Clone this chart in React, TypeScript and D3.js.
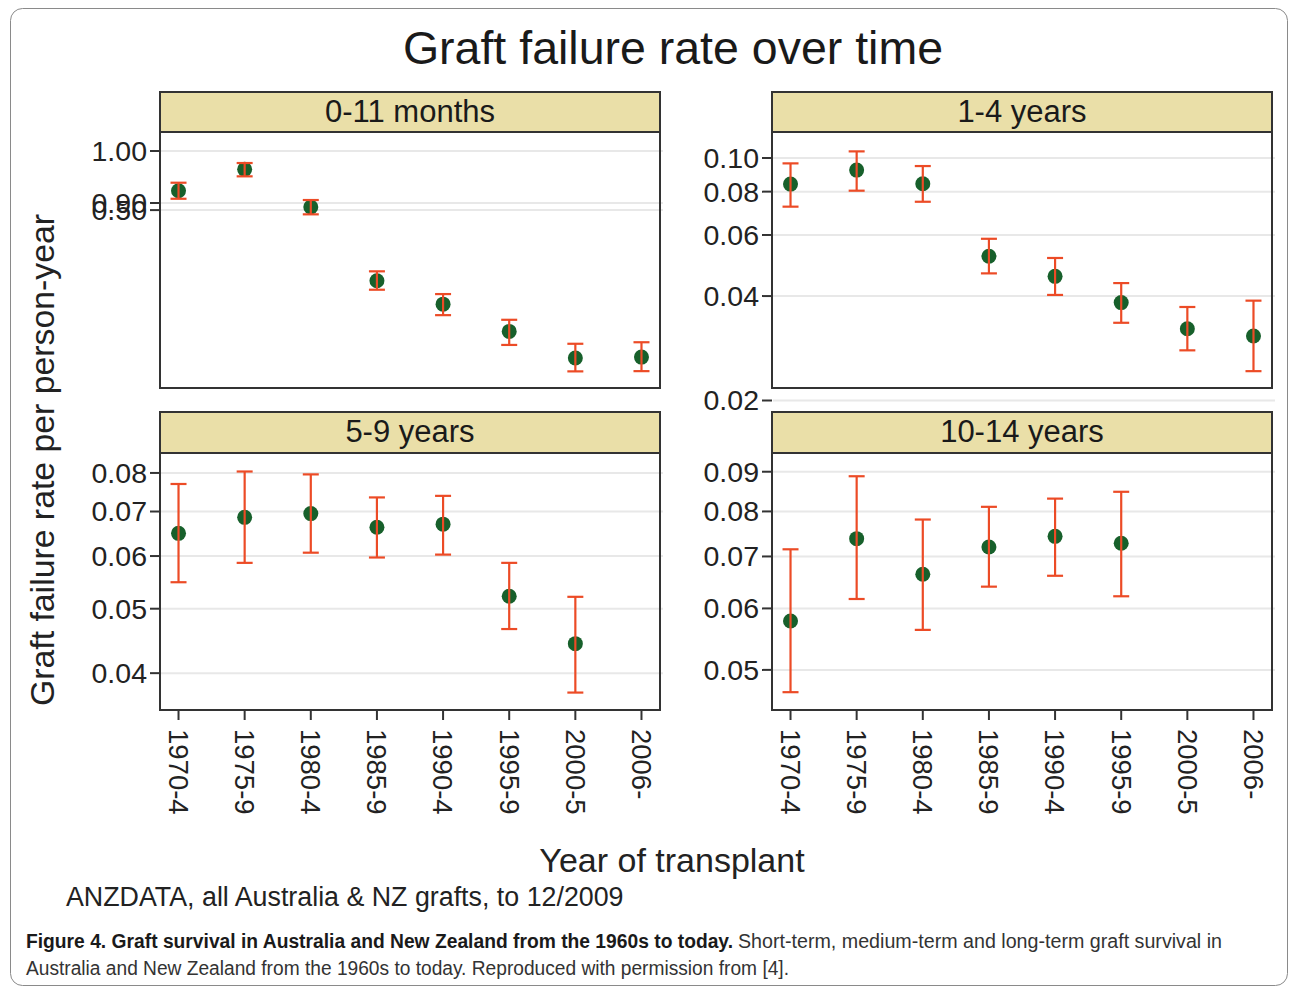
import React from "react";
import * as d3 from "d3";

// ---- Data ----
const periods = ["1970-4", "1975-9", "1980-4", "1985-9", "1990-4", "1995-9", "2000-5", "2006-"];

// 0-11 months (axis as printed in the source)
const rate0to11 = [0.9228, 0.9636, 0.8929, 0.7689, 0.7333, 0.6939, 0.6575, 0.6587];
const lo0to11 = [0.9078, 0.95, 0.8796, 0.755, 0.7171, 0.6751, 0.6399, 0.6402];
const hi0to11 = [0.9378, 0.976, 0.9055, 0.7837, 0.7484, 0.7104, 0.6767, 0.6788];

// 1-4 years
const rate1to4 = [0.0841, 0.0923, 0.0843, 0.0521, 0.0456, 0.0383, 0.0322, 0.0307];
const lo1to4 = [0.0724, 0.0805, 0.0748, 0.0465, 0.0403, 0.0335, 0.0279, 0.0243];
const hi1to4 = [0.0965, 0.1045, 0.0948, 0.0585, 0.0515, 0.0436, 0.0372, 0.0388];

// 5-9 years
const rate5to9 = [0.0649, 0.0686, 0.0695, 0.0663, 0.067, 0.0522, 0.0443];
const lo5to9 = [0.0548, 0.0586, 0.0607, 0.0597, 0.0603, 0.0466, 0.0374];
const hi5to9 = [0.077, 0.0804, 0.0796, 0.0735, 0.0739, 0.0586, 0.0521];

// 10-14 years
const rate10to14 = [0.0578, 0.0738, 0.0664, 0.072, 0.0743, 0.0728];
const lo10to14 = [0.0468, 0.0617, 0.0563, 0.064, 0.0661, 0.0622];
const hi10to14 = [0.0715, 0.0888, 0.0781, 0.0811, 0.0831, 0.0848];

// Tick values and labels
const ticks0to11 = [1.0, 0.9, 0.8872];
const tickLabels0to11 = ["1.00", "0.90", "0.50"];
const ticks1to4 = [0.1, 0.08, 0.06, 0.04, 0.02];
const ticks5to9 = [0.08, 0.07, 0.06, 0.05, 0.04];
const ticks10to14 = [0.09, 0.08, 0.07, 0.06, 0.05];

const panelTitles = ["0-11 months", "1-4 years", "5-9 years", "10-14 years"];

const FONT = "'Liberation Sans', Arial, Helvetica, sans-serif";
const CAPFONT = "'Liberation Sans Narrow', 'Liberation Sans', sans-serif";
const STRIP = "#EADFA8";
const FRAME = "#333333";
const GRID = "#e8e8e8";
const DOT = "#17602b";
const BAR = "#EC4B26";

type Panel = {
  title: string;
  x0: number;
  top: number;
  stripTop: number;
  h: number;
  domain: [number, number];
  ticks: number[];
  labels: string[];
  rate: number[];
  lo: number[];
  hi: number[];
  xAxis: boolean;
};

const W = 500;

const panels: Panel[] = [
  {
    title: panelTitles[0], x0: 160, top: 132, stripTop: 92, h: 256,
    domain: [0.6187, 1.0393], ticks: ticks0to11, labels: tickLabels0to11,
    rate: rate0to11, lo: lo0to11, hi: hi0to11, xAxis: false,
  },
  {
    title: panelTitles[1], x0: 772, top: 132, stripTop: 92, h: 256,
    domain: [0.02173, 0.11884], ticks: ticks1to4, labels: ticks1to4.map(d3.format(".2f")),
    rate: rate1to4, lo: lo1to4, hi: hi1to4, xAxis: false,
  },
  {
    title: panelTitles[2], x0: 160, top: 453, stripTop: 412, h: 257,
    domain: [0.03521, 0.08572], ticks: ticks5to9, labels: ticks5to9.map(d3.format(".2f")),
    rate: rate5to9, lo: lo5to9, hi: hi5to9, xAxis: true,
  },
  {
    title: panelTitles[3], x0: 772, top: 453, stripTop: 412, h: 257,
    domain: [0.04439, 0.09514], ticks: ticks10to14, labels: ticks10to14.map(d3.format(".2f")),
    rate: rate10to14, lo: lo10to14, hi: hi10to14, xAxis: true,
  },
];

function PanelView({ p }: { p: Panel }) {
  const x = d3.scalePoint<string>().domain(periods).range([p.x0, p.x0 + W]).padding(0.28);
  const y = d3.scaleLog().domain(p.domain).range([p.top + p.h, p.top]);
  const capW = 8;
  return (
    <g>
      {/* strip */}
      <rect x={p.x0} y={p.stripTop} width={W} height={p.top - p.stripTop} fill={STRIP} stroke={FRAME} strokeWidth={2} />
      <text x={p.x0 + W / 2} y={p.stripTop + 30} textAnchor="middle" fontSize={31} fill="#1a1a1a" fontFamily={FONT}>
        {p.title}
      </text>
      {/* plot background */}
      <rect x={p.x0} y={p.top} width={W} height={p.h} fill="#fff" />
      {/* grid lines */}
      {p.ticks.map((t, i) => (
        <line key={"g" + i} x1={p.x0 + 1} x2={p.x0 + W + 3} y1={y(t)} y2={y(t)} stroke={GRID} strokeWidth={2} />
      ))}
      {/* markers */}
      {p.rate.map((v, i) => (
        <circle key={"c" + i} cx={x(periods[i])!} cy={y(v)} r={7.5} fill={DOT} />
      ))}
      {/* error bars */}
      {p.rate.map((_, i) => {
        const cx = x(periods[i])!;
        const yl = y(p.lo[i]);
        const yh = y(p.hi[i]);
        return (
          <g key={"e" + i} stroke={BAR} strokeWidth={2.2} fill="none">
            <line x1={cx} x2={cx} y1={yh} y2={yl} />
            <line x1={cx - capW} x2={cx + capW} y1={yh} y2={yh} />
            <line x1={cx - capW} x2={cx + capW} y1={yl} y2={yl} />
          </g>
        );
      })}
      {/* frame */}
      <rect x={p.x0} y={p.top} width={W} height={p.h} fill="none" stroke={FRAME} strokeWidth={2} />
      {/* y axis */}
      {p.ticks.map((t, i) => (
        <g key={"t" + i}>
          <line x1={p.x0 - 10} x2={p.x0} y1={y(t)} y2={y(t)} stroke={FRAME} strokeWidth={2} />
          <text x={p.x0 - 13} y={y(t)} dy="0.35em" textAnchor="end" fontSize={28.5} fill="#222" fontFamily={FONT}>
            {p.labels[i]}
          </text>
        </g>
      ))}
      {/* x axis */}
      {p.xAxis &&
        periods.map((c) => {
          const cx = x(c)!;
          const yb = p.top + p.h;
          return (
            <g key={"x" + c}>
              <line x1={cx} x2={cx} y1={yb} y2={yb + 10} stroke={FRAME} strokeWidth={2} />
              <text
                x={cx}
                y={yb + 19}
                transform={`rotate(90, ${cx}, ${yb + 19})`}
                dy="0.35em"
                textAnchor="start"
                fontSize={27.5}
                fill="#222"
                fontFamily={FONT}
              >
                {c}
              </text>
            </g>
          );
        })}
    </g>
  );
}

export default function App() {
  return (
    <svg
      width={1290}
      height={987}
      style={{ position: "absolute", left: 0, top: 0, background: "#fff" }}
    >
      <rect x={0} y={0} width={1290} height={987} fill="#fff" />
      <rect x={10.5} y={8.5} width={1277} height={977} rx={12} fill="none" stroke="#8a8a8a" strokeWidth={1} />
      <text x={673} y={64} textAnchor="middle" fontSize={46.5} fill="#1a1a1a" fontFamily={FONT}>
        Graft failure rate over time
      </text>
      {panels.map((p, i) => (
        <PanelView key={i} p={p} />
      ))}
      <text
        x={42}
        y={460}
        transform="rotate(-90, 42, 460)"
        textAnchor="middle"
        dy="0.35em"
        fontSize={33.8}
        fill="#222"
        fontFamily={FONT}
      >
        Graft failure rate per person-year
      </text>
      <text x={672} y={872} textAnchor="middle" fontSize={34} fill="#222" fontFamily={FONT}>
        Year of transplant
      </text>
      <text x={66} y={906} fontSize={26.8} fill="#222" fontFamily={FONT}>
        ANZDATA, all Australia &amp; NZ grafts, to 12/2009
      </text>
      <text x={26} y={948} fontSize={20} fill="#1a1a1a" fontWeight="bold" fontFamily={CAPFONT} textLength={707} lengthAdjust="spacingAndGlyphs">
        Figure 4. Graft survival in Australia and New Zealand from the 1960s to today.
      </text>
      <text x={738} y={948} fontSize={20} fill="#333" fontFamily={CAPFONT} textLength={484} lengthAdjust="spacingAndGlyphs">
        Short-term, medium-term and long-term graft survival in
      </text>
      <text x={26} y={975} fontSize={20} fill="#333" fontFamily={CAPFONT} textLength={763} lengthAdjust="spacingAndGlyphs">
        Australia and New Zealand from the 1960s to today. Reproduced with permission from [4].
      </text>
    </svg>
  );
}
